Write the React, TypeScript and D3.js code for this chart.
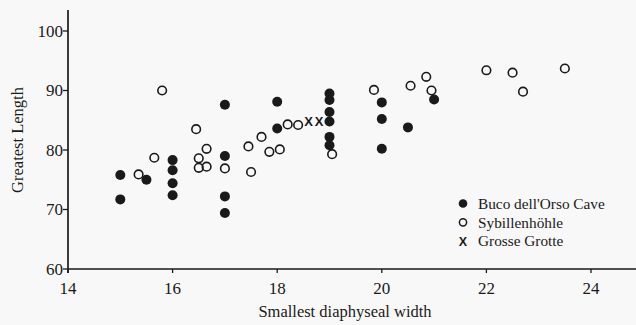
import React from "react";
import * as d3 from "d3";

const bucoX = [15.0, 15.0, 15.5, 16, 16, 16, 16, 17, 17, 17, 17, 18, 18, 19, 19, 19, 19, 19, 19, 20, 20, 20, 20.5, 21];
const bucoY = [75.8, 71.7, 75.0, 78.3, 76.6, 74.4, 72.4, 87.6, 79.0, 72.2, 69.4, 88.1, 83.6, 89.5, 88.4, 86.4, 84.8, 82.2, 80.8, 88.0, 85.2, 80.2, 83.8, 88.5];

const sybX = [15.8, 15.35, 15.65, 16.45, 16.65, 16.5, 16.5, 16.65, 17.0, 17.45, 17.7, 17.5, 17.85, 18.05, 18.2, 18.4, 19.05, 19.85, 20.55, 20.85, 20.95, 22.0, 22.5, 22.7, 23.5];
const sybY = [90.0, 75.9, 78.7, 83.5, 80.2, 78.6, 77.0, 77.2, 76.9, 80.6, 82.2, 76.3, 79.7, 80.1, 84.3, 84.2, 79.3, 90.1, 90.8, 92.3, 90.0, 93.4, 93.0, 89.8, 93.7];

const grosseX = [18.6, 18.8];
const grosseY = [84.9, 84.9];

const xTicks = [14, 16, 18, 20, 22, 24];
const yTicks = [60, 70, 80, 90, 100];
const legendLabels = ["Buco dell'Orso Cave", "Sybillenhöhle", "Grosse Grotte"];

const W = 636;
const H = 325;

export default function App() {
  const x = d3.scaleLinear().domain([14, 24]).range([68, 591]);
  const y = d3.scaleLinear().domain([60, 100]).range([269, 31]);
  const font = "'Liberation Serif', 'Times New Roman', serif";
  const ink = "#1a1a1a";
  const x0 = x(14);
  const y0 = y(60);

  return (
    <svg width={W} height={H} style={{ position: "fixed", left: 0, top: 0 }} fontFamily={font}>
      <rect x={0} y={0} width={W} height={H} fill="#f8f8f8" />
      {/* axes */}
      <line x1={x0} x2={W} y1={y0} y2={y0} stroke={ink} strokeWidth={1.7} />
      <line x1={x0} x2={x0} y1={10} y2={y0 + 4} stroke={ink} strokeWidth={1.7} />
      {yTicks.map((t) => (
        <g key={"yt" + t}>
          <line x1={x0 - 5} x2={x0} y1={y(t)} y2={y(t)} stroke={ink} strokeWidth={1.3} />
          <text x={x0 - 5} y={y(t)} dy="0.35em" textAnchor="end" fontSize={17} fill={ink}>
            {t}
          </text>
        </g>
      ))}
      {xTicks.map((t) => (
        <g key={"xt" + t}>
          <line x1={x(t)} x2={x(t)} y1={y0} y2={y0 + 4} stroke={ink} strokeWidth={1.3} />
          <text x={x(t)} y={294} textAnchor="middle" fontSize={17} fill={ink}>
            {t}
          </text>
        </g>
      ))}
      <text x={345} y={317} textAnchor="middle" fontSize={16.5} fill={ink}>
        Smallest diaphyseal width
      </text>
      <text
        transform={`translate(23,140) rotate(-90)`}
        textAnchor="middle"
        fontSize={16.5}
        fill={ink}
      >
        Greatest Length
      </text>
      {/* data */}
      {sybX.map((v, i) => (
        <circle key={"s" + i} cx={x(v)} cy={y(sybY[i])} r={4.3} fill="none" stroke={ink} strokeWidth={1.6} />
      ))}
      {bucoX.map((v, i) => (
        <circle key={"b" + i} cx={x(v)} cy={y(bucoY[i])} r={5} fill={ink} />
      ))}
      {grosseX.map((v, i) => (
        <text
          key={"g" + i}
          x={x(v)}
          y={y(grosseY[i])}
          dy="0.36em"
          textAnchor="middle"
          fontSize={13}
          fontWeight="bold"
          fontFamily="'Liberation Sans', Arial, sans-serif"
          fill={ink}
        >
          X
        </text>
      ))}
      {/* legend */}
      <g>
        <circle cx={463} cy={203.5} r={4.3} fill={ink} />
        <circle cx={463} cy={222.3} r={3.6} fill="none" stroke={ink} strokeWidth={1.5} />
        <text x={463} y={241} dy="0.36em" textAnchor="middle" fontSize={12.5} fontWeight="bold" fontFamily="'Liberation Sans', Arial, sans-serif" fill={ink}>
          X
        </text>
        {legendLabels.map((l, i) => (
          <text key={"l" + i} x={478} y={203.5 + i * 18.8} dy="0.35em" fontSize={15.3} fill={ink}>
            {l}
          </text>
        ))}
      </g>
    </svg>
  );
}
